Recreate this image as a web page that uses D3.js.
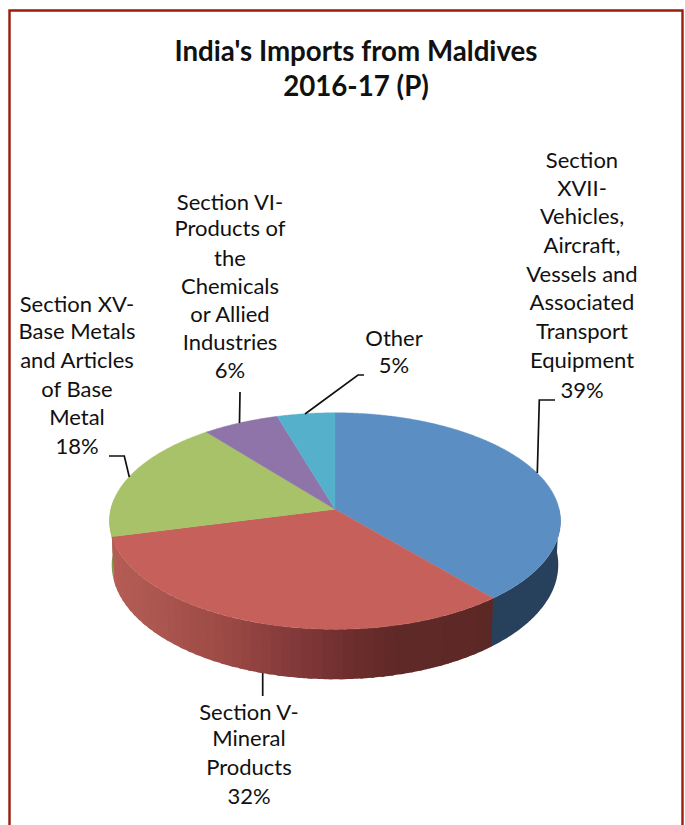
<!DOCTYPE html>
<html><head><meta charset="utf-8">
<script src="https://cdnjs.cloudflare.com/ajax/libs/d3/7.8.5/d3.min.js"></script>
<style>html,body{margin:0;padding:0;background:#fff}svg{display:block}text{font-family:Lato,"Open Sans",sans-serif;fill:#111}</style>
</head><body><svg id="c" width="685" height="825"></svg>
<script>
const titleLines = ["India's Imports from Maldives", "2016-17 (P)"];
const categories = ["Section XVII", "Section V", "Section XV", "Section VI", "Other"];
const values = [38.8, 32.2, 18.3, 6.1, 4.6];
const labelLines = [
  ["Section","XVII-","Vehicles,","Aircraft,","Vessels and","Associated","Transport","Equipment","39%"],
  ["Section V-","Mineral","Products","32%"],
  ["Section XV-","Base Metals","and Articles","of Base","Metal","18%"],
  ["Section VI-","Products of","the","Chemicals","or Allied","Industries","6%"],
  ["Other","5%"]
];
const topColors = ["#5b8fc4","#c5605a","#a7c269","#8e74a9","#55b0cc"];

// layout
const labelX = [582, 249, 77, 230, 394];
const labelY = [[168,196,224,253,282,310,339,368,398],[720,746,775,804],[312,339,368,397,425,454],[210,236,266,294,322,350,378],[346,373]];
const leaders = [
  [[537.3,473],[539.3,400],[555,400]],
  [[262.7,673],[262.7,696]],
  [[109,456],[124.3,456],[129.3,477]],
  [[240,392],[239.5,423]],
  [[305,414],[358,375],[364,375]]
];
const cx = 335, cy = 509.3, A = 107, B = 224.2, k = 0.108;
const project = a => {
  const X = Math.sin(a), Y = Math.cos(a), w = 1 + k * Y;
  return [cx + B * X / w, cy - A * Y / w];
};
const lower = a => {
  const p = project(a), Y = Math.cos(a);
  return [cx + (p[0] - cx) * 0.99, p[1] + 43 - 7 * Y];
};
const svg = d3.select("#c");
const line = d3.line();
const arcs = d3.pie().sort(null).value(d => d)(values);
const deg = Math.PI / 180;

// frame, open at the bottom
svg.append("path").attr("d", line([[9.5,825],[9.5,10.5],[682.5,10.5],[682.5,825]]))
  .attr("fill","none").attr("stroke","#9b1c0e").attr("stroke-width",2.4);

// side walls
const wall = (a0, a1, fill) => {
  const n = Math.max(2, Math.ceil((a1 - a0) / (0.5 * deg)));
  const as = d3.range(n + 1).map(i => a0 + (a1 - a0) * i / n);
  svg.append("path").attr("d", line(as.map(project).concat(as.slice().reverse().map(lower))) + "Z")
    .attr("fill", fill);
};
const redShade = d3.scaleLinear()
  .domain([493,397,350,290,223,133,113])
  .range(["#5c2826","#5f2927","#6e2e2d","#843a3a","#9d4a45","#b05a52","#b55c55"]);
wall(arcs[0].startAngle + 90*deg, arcs[0].endAngle + 0.5*deg, "#27415c");
wall(arcs[2].startAngle, arcs[2].startAngle + 20*deg, "#7e9a4b");
const st = 2.4 * deg;
d3.range(arcs[1].startAngle, arcs[1].endAngle, st).forEach(a => {
  wall(a, Math.min(a + st * 1.4, arcs[1].endAngle), redShade(project(a + st/2)[0]));
});

// top face
arcs.forEach((d, i) => {
  const n = Math.ceil((d.endAngle - d.startAngle) / (0.5 * deg));
  const pts = d3.range(n + 1).map(j => project(d.startAngle + (d.endAngle - d.startAngle) * j / n));
  svg.append("path").attr("class","slice").attr("d", line([[cx,cy]].concat(pts)) + "Z")
    .attr("fill", topColors[i]).attr("stroke", topColors[i]).attr("stroke-width", 0.4);
});

// leaders
leaders.forEach(l => svg.append("path").attr("d", line(l)).attr("fill","none").attr("stroke","#111").attr("stroke-width",1.7));

// labels
labelLines.forEach((ls, i) => ls.forEach((t, j) => {
  svg.append("text").attr("x", labelX[i]).attr("y", labelY[i][j]).attr("text-anchor","middle")
    .attr("font-size", 22).text(t);
}));
titleLines.forEach((t, i) => {
  svg.append("text").attr("x", 356).attr("y", i ? 96 : 61).attr("text-anchor","middle")
    .attr("font-size", 27.7).attr("font-weight","700").text(t);
});
</script></body></html>
